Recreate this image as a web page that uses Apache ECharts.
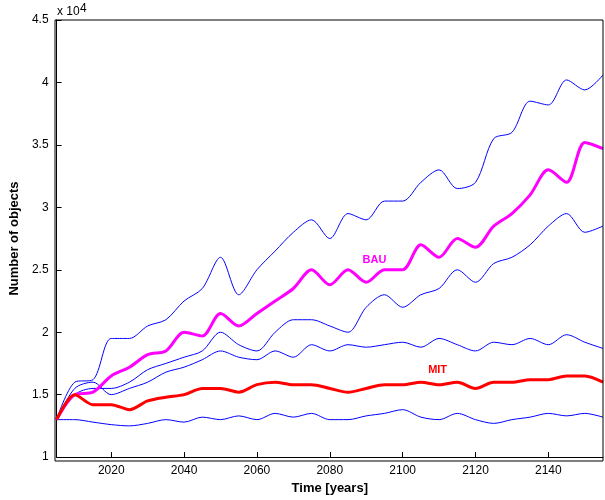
<!DOCTYPE html>
<html><head><meta charset="utf-8">
<script src="https://cdn.jsdelivr.net/npm/echarts@6/dist/echarts.min.js"></script>
<style>html,body{margin:0;padding:0;background:#fff}#c{width:605px;height:500px}</style>
</head><body><div id="c"></div>
<script>
const years = [2005,2010,2015,2020,2025,2030,2035,2040,2045,2050,2055,2060,2065,2070,2075,2080,2085,2090,2095,2100,2105,2110,2115,2120,2125,2130,2135,2140,2145,2150,2155];
const bauUpper = [1.3,1.6,1.62,1.95,1.95,2.05,2.1,2.25,2.35,2.6,2.3,2.5,2.65,2.8,2.9,2.75,2.95,2.9,3.05,3.05,3.2,3.3,3.15,3.2,3.55,3.6,3.85,3.82,4.02,3.94,4.06];
const bau = [1.3,1.5,1.52,1.65,1.72,1.82,1.85,2.0,1.97,2.15,2.05,2.15,2.25,2.35,2.5,2.38,2.5,2.4,2.5,2.5,2.7,2.6,2.75,2.68,2.85,2.95,3.1,3.3,3.2,3.52,3.47];
const bauLower = [1.3,1.5,1.55,1.55,1.6,1.7,1.75,1.8,1.85,2.0,1.9,1.85,2.0,2.1,2.1,2.05,2.0,2.2,2.3,2.2,2.3,2.35,2.5,2.4,2.55,2.6,2.7,2.85,2.95,2.8,2.85];
const mitUpper = [1.3,1.55,1.6,1.5,1.55,1.6,1.68,1.72,1.78,1.85,1.8,1.78,1.85,1.8,1.9,1.85,1.9,1.88,1.9,1.92,1.88,1.95,1.9,1.85,1.92,1.9,1.95,1.9,1.98,1.92,1.87];
const mit = [1.3,1.5,1.42,1.42,1.38,1.45,1.48,1.5,1.55,1.55,1.52,1.58,1.6,1.58,1.58,1.55,1.52,1.55,1.58,1.58,1.6,1.58,1.6,1.55,1.6,1.6,1.62,1.62,1.65,1.65,1.6];
const mitLower = [1.3,1.3,1.28,1.26,1.25,1.27,1.3,1.28,1.32,1.3,1.33,1.3,1.35,1.32,1.35,1.3,1.3,1.33,1.35,1.38,1.32,1.3,1.35,1.3,1.27,1.3,1.32,1.35,1.33,1.35,1.32];
const xTicks = [2020,2040,2060,2080,2100,2120,2140];

const pairs = v => years.map((y,i)=>[y,v[i]]);
const line = (v,color,w) => ({type:'line',data:pairs(v),showSymbol:false,smooth:0.3,lineStyle:{color,width:w},z:w>1?3:2});
const chart = echarts.init(document.getElementById('c'));
const ax = {fontFamily:'Liberation Sans',fontSize:12,color:'#000'};
chart.setOption({
  animation:false,
  grid:{left:55,right:2,top:20,bottom:39},
  xAxis:{type:'value',min:2005,max:2155,
    axisLabel:Object.assign({},ax,{customValues:xTicks,formatter:v=>String(v)}),
    axisTick:{inside:true,customValues:xTicks,lineStyle:{color:'#000'}},
    axisLine:{lineStyle:{color:'#000'}},splitLine:{show:false},
    name:'Time [years]',nameLocation:'middle',nameGap:20,nameTextStyle:Object.assign({},ax,{fontWeight:'bold',fontSize:13})},
  yAxis:{type:'value',min:1,max:4.5,interval:0.5,
    axisLabel:ax,axisTick:{inside:true,lineStyle:{color:'#000'}},
    axisLine:{lineStyle:{color:'#000'}},splitLine:{show:false},
    name:'Number of objects',nameLocation:'middle',nameGap:30,nameTextStyle:Object.assign({},ax,{fontWeight:'bold',fontSize:13})},
  graphic:[
    {type:'rect',shape:{x:55,y:20,width:548,height:441},style:{fill:'none',stroke:'#000',lineWidth:1},silent:true,z:10},
    {type:'text',left:57,top:6,style:{text:'x 10',font:'11px Liberation Sans',fill:'#000'}},
    {type:'text',left:80,top:3,style:{text:'4',font:'8px Liberation Sans',fill:'#000'}}
  ],
  series:[
    line(bauUpper,'#0000ff',1),line(bauLower,'#0000ff',1),line(mitUpper,'#0000ff',1),line(mitLower,'#0000ff',1),
    line(bau,'#ff00ff',3),line(mit,'#ff0000',3)
  ]
});
const p1 = chart.convertToPixel({gridIndex:0},[2089,2.62]);
const p2 = chart.convertToPixel({gridIndex:0},[2107,1.74]);
chart.setOption({graphic:[{},{},{},
  {type:'text',x:p1[0],y:p1[1],style:{text:'BAU',font:'bold 11px Liberation Sans',fill:'#ff00ff'}},
  {type:'text',x:p2[0],y:p2[1],style:{text:'MIT',font:'bold 11px Liberation Sans',fill:'#ff0000'}}
]});
</script></body></html>
